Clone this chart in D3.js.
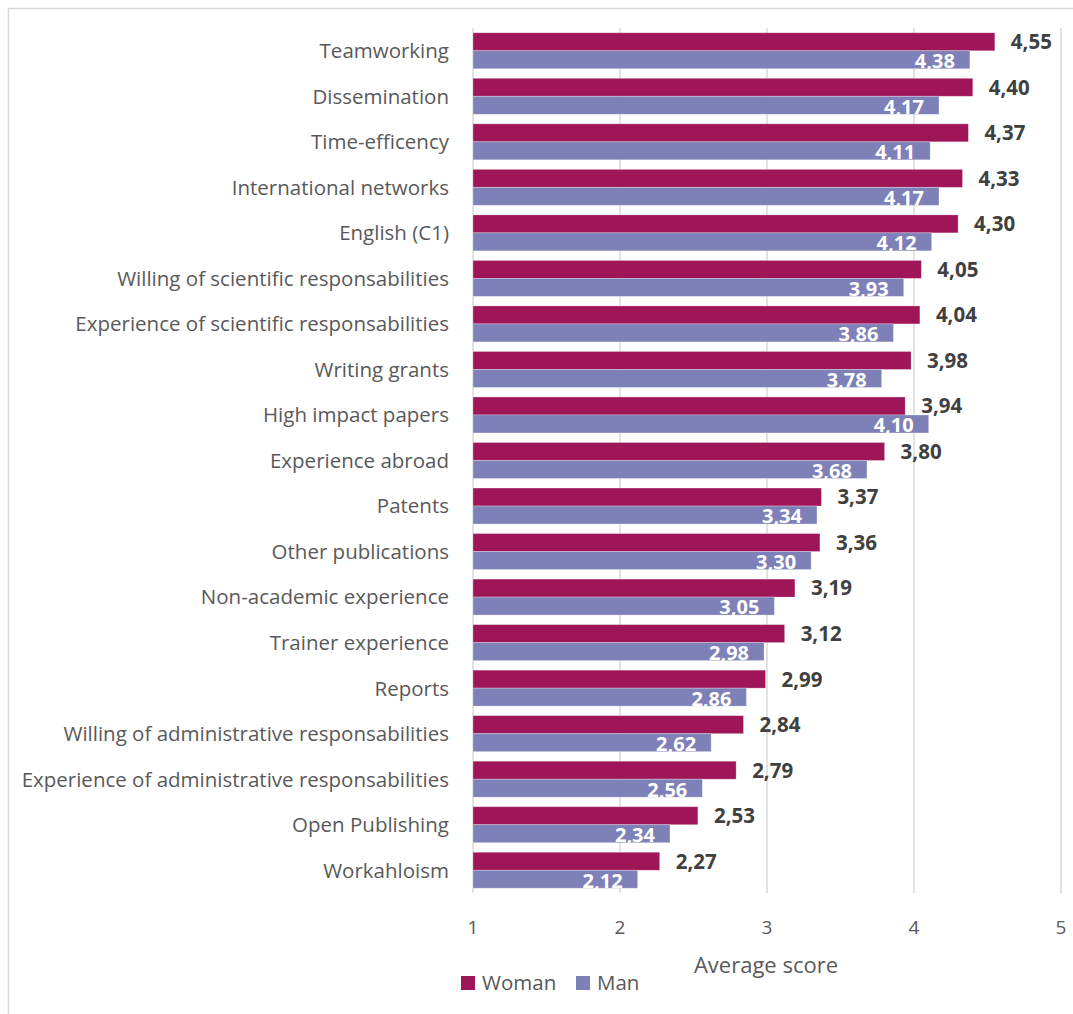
<!DOCTYPE html>
<html>
<head>
<meta charset="utf-8">
<script src="https://cdn.jsdelivr.net/npm/d3@7"></script>
<style>
  body { margin: 0; background: #fff; }
  text { font-family: 'Open Sans', Lato, sans-serif; }
</style>
</head>
<body>
<div id="chart"></div>
<script>
const categories = ['Teamworking', 'Dissemination', 'Time-efficency', 'International networks',
  'English (C1)', 'Willing of scientific responsabilities', 'Experience of scientific responsabilities',
  'Writing grants', 'High impact papers', 'Experience abroad', 'Patents', 'Other publications',
  'Non-academic experience', 'Trainer experience', 'Reports', 'Willing of administrative responsabilities',
  'Experience of administrative responsabilities', 'Open Publishing', 'Workahloism']
const woman = [4.55, 4.40, 4.37, 4.33, 4.30, 4.05, 4.04, 3.98, 3.94, 3.80, 3.37, 3.36, 3.19, 3.12, 2.99, 2.84, 2.79, 2.53, 2.27]
const man = [4.38, 4.17, 4.11, 4.17, 4.12, 3.93, 3.86, 3.78, 4.10, 3.68, 3.34, 3.30, 3.05, 2.98, 2.86, 2.62, 2.56, 2.34, 2.12]
const series = ['Woman', 'Man']
const ticks = [1, 2, 3, 4, 5]

const colors = { Woman: '#9e1558', Man: '#7e80b8' }

const width = 1073
const height = 1014
const margin = { top: 28, left: 473, right: 12, bottom: 121 }

const svg = d3.select('#chart').append('svg')
  .attr('width', width)
  .attr('height', height)

// outer chart border
svg.append('rect')
  .attr('x', 8.5).attr('y', 8.5)
  .attr('width', width + 20).attr('height', height + 20)
  .attr('fill', 'none')
  .attr('stroke', '#d9d9d9')
  .attr('stroke-width', 1.5)

const x = d3.scaleLinear().domain([1, 5]).range([margin.left, 1061])
const y = d3.scaleBand().domain(categories)
  .range([margin.top, height - margin.bottom])
  .paddingInner(0.21).paddingOuter(0.105)
const inner = d3.scaleBand().domain(series).range([0, y.bandwidth()])

const rows = categories.map((c, i) => ({ cat: c, Woman: woman[i], Man: man[i] }))

// gridlines
svg.append('g')
  .selectAll('line')
  .data(ticks)
  .enter()
  .append('line')
  .attr('x1', d => x(d)).attr('x2', d => x(d))
  .attr('y1', margin.top).attr('y2', height - margin.bottom)
  .attr('stroke', '#d9d9d9')
  .attr('stroke-width', 1.5)

// tick labels
svg.append('g')
  .selectAll('text')
  .data(ticks)
  .enter()
  .append('text')
  .attr('x', d => x(d))
  .attr('y', 934)
  .attr('text-anchor', 'middle')
  .attr('font-size', 19)
  .attr('fill', '#595959')
  .text(d => d)

// bars
const groups = svg.append('g')
  .selectAll('g')
  .data(rows)
  .enter()
  .append('g')
  .attr('transform', d => 'translate(0,' + y(d.cat) + ')')

groups.selectAll('rect')
  .data(d => series.map(s => ({ key: s, value: d[s] })))
  .enter()
  .append('rect')
  .attr('x', x(1))
  .attr('y', d => inner(d.key))
  .attr('width', d => x(d.value) - x(1))
  .attr('height', inner.bandwidth())
  .attr('fill', d => colors[d.key])
  .attr('stroke', '#fff')
  .attr('stroke-opacity', 0.35)
  .attr('stroke-width', 0.8)

// woman labels outside end
groups.append('text')
  .attr('x', d => x(d.Woman) + 16)
  .attr('y', inner('Woman') + inner.bandwidth() / 2)
  .attr('dy', '0.36em')
  .attr('font-size', 20.5)
  .attr('font-weight', 'bold')
  .attr('fill', '#404040')
  .text(d => d.Woman.toFixed(2).replace('.', ','))

// man labels inside end
groups.append('text')
  .attr('x', d => x(d.Man) - 15)
  .attr('y', inner('Man') + inner.bandwidth() / 2)
  .attr('dy', '0.42em')
  .attr('text-anchor', 'end')
  .attr('font-size', 20)
  .attr('font-weight', 'bold')
  .attr('fill', '#fff')
  .text(d => d.Man.toFixed(2).replace('.', ','))

// category labels
svg.append('g')
  .selectAll('text')
  .data(categories)
  .enter()
  .append('text')
  .attr('x', 449)
  .attr('y', d => y(d) + y.bandwidth() / 2)
  .attr('dy', '0.36em')
  .attr('text-anchor', 'end')
  .attr('font-size', 20.5)
  .attr('fill', '#595959')
  .text(d => d)

// axis title
svg.append('text')
  .attr('x', 766)
  .attr('y', 973)
  .attr('text-anchor', 'middle')
  .attr('font-size', 22)
  .attr('fill', '#595959')
  .text('Average score')

// legend
const legend = svg.append('g')
  .selectAll('g')
  .data(series)
  .enter()
  .append('g')
  .attr('transform', (d, i) => 'translate(' + (461 + i * 115) + ',976)')

legend.append('rect')
  .attr('width', 14).attr('height', 14)
  .attr('fill', d => colors[d])

legend.append('text')
  .attr('x', 21).attr('y', 7)
  .attr('dy', '0.36em')
  .attr('font-size', 20.5)
  .attr('fill', '#595959')
  .text(d => d)
</script>
</body>
</html>
